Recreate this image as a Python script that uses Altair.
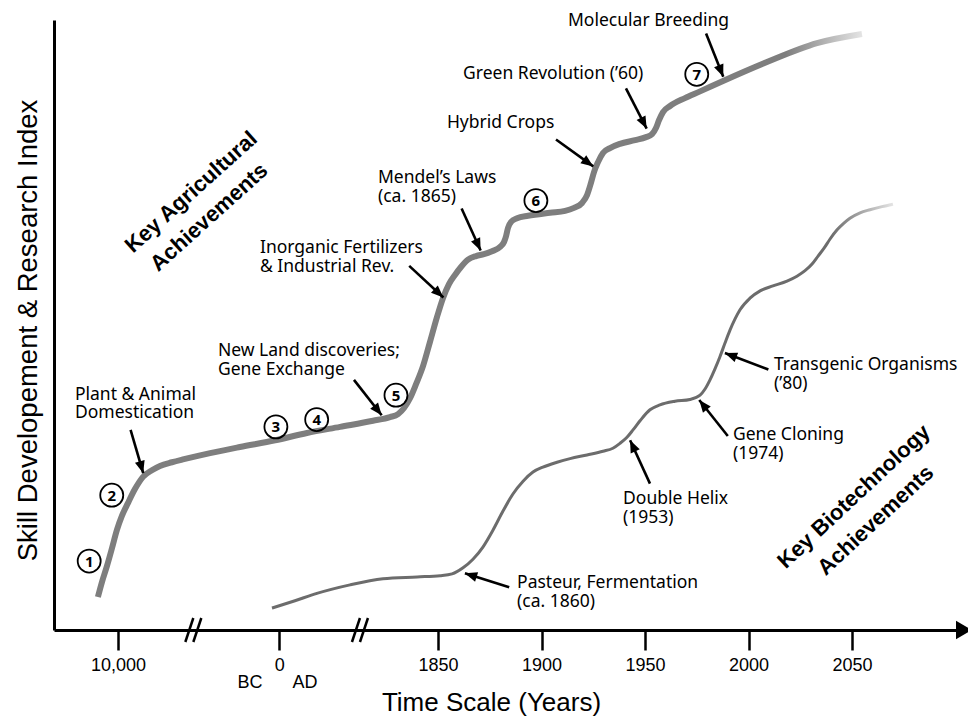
import math
import altair as alt
import pandas as pd

# ------------------------------------------------------------------
# Timeline position "t": the 1850-2050 part of the axis is in years,
# the BC / early-AD part is a compressed (broken) stretch.
# Index "i": Skill development & research index, 0-100.
# ------------------------------------------------------------------
T_MIN, T_MAX = 1664.5, 2104.1
I_MIN, I_MAX = 0, 100

tick_pos = [1695.4, 1773.3, 1850, 1900, 1950, 2000, 2050]
tick_labels = ["10,000", "0", "1850", "1900", "1950", "2000", "2050"]
break_pos = [1731.8, 1812.3]
era_text = ["BC", "AD"]
era_t = [1759.2, 1785.7]
era_i = [-8.7, -8.7]

# Key agricultural achievements curve
ag_t = [1685.7, 1687.7, 1690.1, 1692.5, 1694.9, 1697.3, 1700.2, 1703.6, 1707.5, 1711.8,
        1715.7, 1721.5, 1727.3, 1739.9, 1754.3, 1771.3, 1786.7, 1802.7, 1818.6, 1826.8,
        1830.7, 1833.6, 1836.5, 1839.4, 1842.8, 1846.1, 1849.5, 1852.4, 1855.3, 1858.2,
        1861.1, 1864.5, 1868.4, 1872.2, 1876.1, 1880.0, 1881.9, 1882.9, 1883.8, 1885.3,
        1888.2, 1893.5, 1904.1, 1911.4, 1915.7, 1919.6, 1922.0, 1923.9, 1925.4, 1927.3,
        1929.7, 1933.1, 1937.9, 1945.2, 1950.5, 1953.4, 1955.3, 1956.8, 1958.7, 1962.1,
        1969.3, 1976.6, 1987.7, 2008.9, 2033.1, 2054.8]
ag_i = [5.4, 7.9, 10.5, 13.4, 16.4, 18.7, 20.8, 23.1, 25.1, 26.2,
        26.9, 27.5, 28.0, 29.0, 30.0, 31.1, 32.3, 33.3, 34.3, 34.9,
        35.4, 36.4, 38.0, 40.3, 43.3, 47.2, 51.3, 54.4, 56.7, 58.2,
        59.5, 60.7, 61.3, 61.6, 62.1, 62.8, 63.6, 64.6, 65.9, 66.9,
        67.5, 67.9, 68.4, 68.7, 69.2, 70.0, 71.3, 73.3, 75.1, 76.7,
        78.2, 79.0, 79.7, 80.3, 80.8, 81.3, 82.3, 83.6, 84.9, 85.9,
        87.2, 88.3, 90.0, 93.1, 96.2, 97.7]

# Key biotechnology achievements curve
bio_t = [1769.8, 1780.9, 1791.5, 1807.5, 1823.4, 1839.9, 1851.0, 1856.8, 1862.1, 1866.9,
         1871.7, 1876.6, 1881.4, 1886.2, 1891.1, 1895.9, 1900.7, 1907.5, 1913.8, 1922.0,
         1929.7, 1934.5, 1937.9, 1941.3, 1944.2, 1947.6, 1952.4, 1957.2, 1964.5, 1971.7,
         1976.6, 1979.0, 1981.4, 1983.8, 1986.2, 1988.6, 1991.1, 1993.5, 1995.9, 2000.7,
         2005.6, 2011.8, 2018.6, 2023.4, 2027.3, 2030.7, 2033.6, 2036.5, 2039.4, 2042.8,
         2046.1, 2049.0, 2053.9, 2058.7, 2064.5, 2069.8]
bio_i = [3.6, 4.8, 6.0, 7.4, 8.4, 8.7, 8.9, 9.2, 10.2, 11.6,
         13.6, 16.4, 19.5, 22.3, 24.4, 25.9, 26.7, 27.5, 28.1, 28.7,
         29.3, 29.8, 30.6, 31.6, 32.8, 34.3, 36.1, 36.9, 37.5, 37.8,
         38.5, 39.5, 41.0, 42.8, 44.8, 47.0, 49.2, 51.0, 52.5, 54.4,
         55.6, 56.4, 57.2, 58.0, 58.9, 60.0, 61.3, 62.6, 64.1, 65.6,
         66.7, 67.5, 68.4, 68.9, 69.4, 69.8]

# Annotation text lines (left aligned)
label_text = ["Plant & Animal", "Domestication",
              "New Land discoveries;", "Gene Exchange",
              "Inorganic Fertilizers", "& Industrial Rev.",
              "Mendel\u2019s Laws", "(ca. 1865)",
              "Hybrid Crops",
              "Green Revolution (\u201960)",
              "Molecular Breeding",
              "Pasteur, Fermentation", "(ca. 1860)",
              "Double Helix", "(1953)",
              "Gene Cloning", "(1974)",
              "Transgenic Organisms", "(\u201980)"]
label_t = [1674.6, 1674.6, 1743.7, 1743.7, 1764.0, 1764.0, 1821.0, 1821.0, 1854.3,
           1862.1, 1912.8, 1888.2, 1888.2, 1939.4, 1939.4, 1992.5, 1992.5, 2012.3, 2012.3]
label_i = [38.5, 35.6, 45.7, 42.6, 62.6, 59.5, 74.1, 71.0, 83.1,
           91.1, 99.8, 7.7, 4.6, 21.5, 18.4, 32.0, 28.9, 43.4, 40.3]

# Arrows (tail -> tip)
arrow_tail_t = [1701.5, 1809.4, 1836.1, 1861.4, 1907.0, 1940.8, 1979.5, 1884.4, 1952.4, 1990.0, 2009.6]
arrow_tail_i = [32.8, 41.0, 59.7, 69.1, 80.4, 88.8, 97.8, 7.0, 24.0, 31.8, 42.7]
arrow_tip_t = [1707.6, 1822.8, 1852.6, 1870.6, 1925.0, 1950.8, 1987.8, 1863.0, 1942.8, 1976.2, 1988.6]
arrow_tip_i = [25.7, 35.2, 54.5, 62.2, 76.0, 82.2, 90.7, 9.3, 31.1, 37.7, 45.4]

# Circled era numbers
num_text = ["1", "2", "3", "4", "5", "6", "7"]
num_t = [1681.5, 1692.4, 1771.7, 1791.4, 1829.7, 1897.3, 1975.0]
num_i = [11.3, 22.1, 33.3, 34.5, 38.5, 70.4, 91.1]

# Rotated group titles
grp_text = ["Key Agricultural", "Achievements", "Key Biotechnology", "Achievements"]
grp_t = [1730.7, 1739.4, 2050.9, 2061.4]
grp_i = [71.8, 67.7, 21.9, 18.0]

# ------------------------------------------------------------------
W, H = 910, 610
PX_T = W / (T_MAX - T_MIN)
PX_I = H / (I_MAX - I_MIN)

AX_FONT = "Liberation Sans, Arial, sans-serif"
ANN_FONT = "Noto Sans, Open Sans, sans-serif"

xs = alt.Scale(domain=[T_MIN, T_MAX], nice=False, zero=False)
ys = alt.Scale(domain=[I_MIN, I_MAX], nice=False, zero=False)

label_expr = ("[" + ",".join("'%s'" % s for s in tick_labels) + "][indexof(["
              + ",".join(repr(float(v)) for v in tick_pos) + "], datum.value)]")

x_axis = alt.Axis(
    title="Time Scale (Years)", titleFont=AX_FONT, titleFontSize=26,
    titleFontWeight="normal", titleColor="black", titleX=437, titleY=72,
    titleBaseline="middle", titleAlign="center",
    values=tick_pos, labelExpr=label_expr, labelFont=AX_FONT, labelFontSize=18,
    labelColor="black", labelPadding=6, labelFlush=False, labelOverlap=False,
    ticks=True, tickSize=20, tickWidth=2.5, tickColor="black",
    domain=True, domainColor="black", domainWidth=3, grid=False,
)
y_axis = alt.Axis(
    title="Skill Developement & Research Index", titleFont=AX_FONT, titleFontSize=27.5,
    titleFontWeight="normal", titleColor="black", titleAngle=270,
    titleX=-26, titleY=310, titleBaseline="middle", titleAlign="center",
    ticks=False, labels=False, domain=True, domainColor="black", domainWidth=3, grid=False,
)


def X(f):
    return alt.X(f, type="quantitative", scale=xs, axis=x_axis)


def Y(f):
    return alt.Y(f, type="quantitative", scale=ys, axis=y_axis)


ag_df = pd.DataFrame({"t": ag_t, "i": ag_i})
bio_df = pd.DataFrame({"t": bio_t, "i": bio_i})
lab_df = pd.DataFrame({"text": label_text, "t": label_t, "i": label_i})
num_df = pd.DataFrame({"text": num_text, "t": num_t, "i": num_i})
era_df = pd.DataFrame({"text": era_text, "t": era_t, "i": era_i})
brk_df = pd.DataFrame({"t": break_pos, "i": [0] * len(break_pos)})
end_df = pd.DataFrame({"t": [T_MAX], "i": [I_MIN]})

angles = []
for a, b, c, d in zip(arrow_tail_t, arrow_tail_i, arrow_tip_t, arrow_tip_i):
    dx = (c - a) * PX_T
    dy = -(d - b) * PX_I
    angles.append(math.degrees(math.atan2(dx, -dy)) % 360)
arr_df = pd.DataFrame({"t": arrow_tail_t, "i": arrow_tail_i,
                       "t2": arrow_tip_t, "i2": arrow_tip_i, "angle": angles})

agr_df = pd.DataFrame({"text": grp_text[:2], "t": grp_t[:2], "i": grp_i[:2]})
bgr_df = pd.DataFrame({"text": grp_text[2:], "t": grp_t[2:], "i": grp_i[2:]})


def grad(color, fade_at, end_color):
    return alt.Gradient(
        gradient="linear", x1=0, x2=1, y1=0, y2=0,
        stops=[alt.GradientStop(color=color, offset=0),
               alt.GradientStop(color=color, offset=fade_at),
               alt.GradientStop(color=end_color, offset=1)],
    )


ag_line = alt.Chart(ag_df).mark_line(
    interpolate="monotone", strokeWidth=6, strokeCap="butt",
    stroke=grad("#7e7e7e", 0.9, "#e4e4e4"),
).encode(x=X("t"), y=Y("i"), order=alt.Order("t:Q"))

bio_line = alt.Chart(bio_df).mark_line(
    interpolate="monotone", strokeWidth=3, strokeCap="butt",
    stroke=grad("#6c6c6c", 0.9, "#e4e4e4"),
).encode(x=X("t"), y=Y("i"), order=alt.Order("t:Q"))

arrow_shafts = alt.Chart(arr_df).mark_rule(color="black", strokeWidth=2.6).encode(
    x=X("t"), y=Y("i"), x2="t2:Q", y2="i2:Q")

HEAD = "M0,0L0.55,1.35L-0.55,1.35Z"
arrow_heads = alt.Chart(arr_df).mark_point(
    shape=HEAD, filled=True, color="black", size=330, opacity=1, strokeWidth=0,
).encode(x=X("t2"), y=Y("i2"), angle=alt.Angle("angle:Q", scale=None))

labels = alt.Chart(lab_df).mark_text(
    align="left", baseline="middle", font=ANN_FONT, fontSize=17.5, color="black",
).encode(x=X("t"), y=Y("i"), text="text:N")

circles = alt.Chart(num_df).mark_point(
    shape="circle", filled=False, size=529, stroke="black", strokeWidth=1.8, opacity=1,
).encode(x=X("t"), y=Y("i"))

nums = alt.Chart(num_df).mark_text(
    align="center", baseline="middle", font=ANN_FONT, fontSize=15, fontWeight="bold",
    color="black", dy=0.5,
).encode(x=X("t"), y=Y("i"), text="text:N")

agr_title = alt.Chart(agr_df).mark_text(
    align="center", baseline="middle", font=AX_FONT, fontSize=22, fontWeight="bold",
    color="black", angle=318,
).encode(x=X("t"), y=Y("i"), text="text:N")

bgr_title = alt.Chart(bgr_df).mark_text(
    align="center", baseline="middle", font=AX_FONT, fontSize=22, fontWeight="bold",
    color="black", angle=317,
).encode(x=X("t"), y=Y("i"), text="text:N")

era = alt.Chart(era_df).mark_text(
    align="center", baseline="middle", font=AX_FONT, fontSize=18, color="black",
).encode(x=X("t"), y=Y("i"), text="text:N")

brk_a = alt.Chart(brk_df).mark_rule(
    color="black", strokeWidth=2.5, xOffset=-8, x2Offset=0, yOffset=12, y2Offset=-12,
).encode(x=X("t"), y=Y("i"), x2="t:Q", y2="i:Q")
brk_b = alt.Chart(brk_df).mark_rule(
    color="black", strokeWidth=2.5, xOffset=0, x2Offset=8, yOffset=12, y2Offset=-12,
).encode(x=X("t"), y=Y("i"), x2="t:Q", y2="i:Q")

axis_arrow = alt.Chart(end_df).mark_point(
    shape="triangle-right", filled=True, color="black", size=340, opacity=1, strokeWidth=0,
).encode(x=X("t"), y=Y("i"))

chart = alt.layer(
    ag_line, bio_line, arrow_shafts, arrow_heads, labels, circles, nums,
    agr_title, bgr_title, era, brk_a, brk_b, axis_arrow,
).properties(
    width=W, height=H,
    autosize=alt.AutoSizeParams(type="none"),
    padding={"left": 46, "top": 12, "right": 4, "bottom": 86},
    background="white",
).configure_view(strokeWidth=0)

chart.save("out.html", embed_options={"renderer": "svg", "actions": False})
